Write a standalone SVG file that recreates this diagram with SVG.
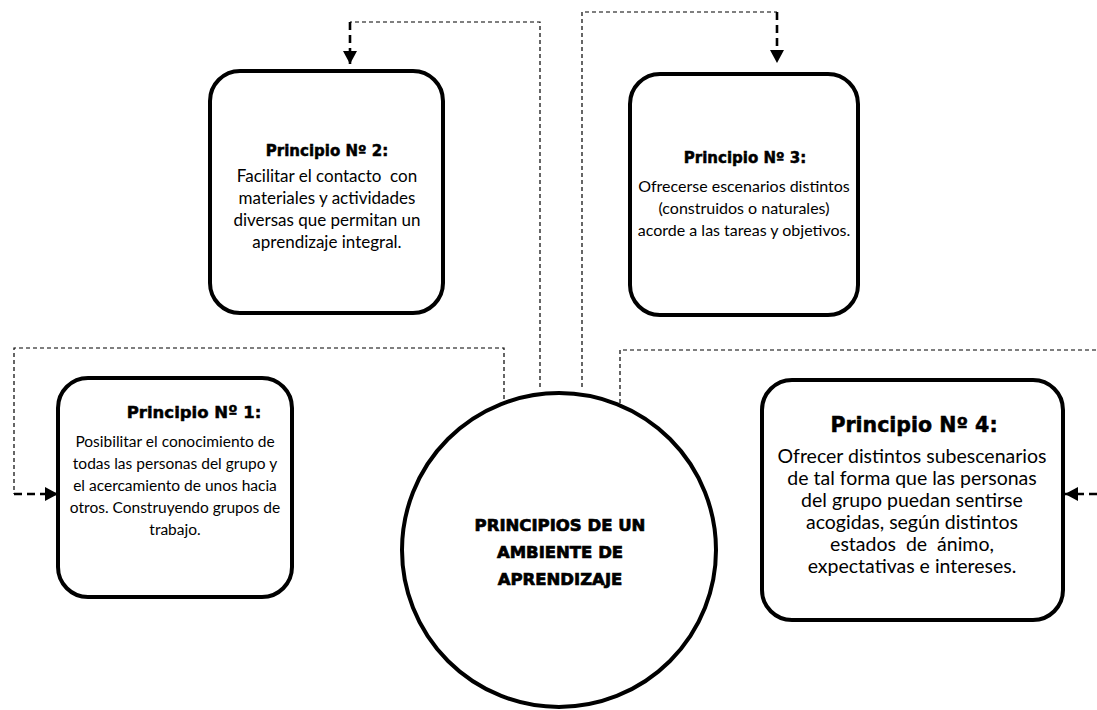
<svg xmlns="http://www.w3.org/2000/svg" width="1097" height="710" viewBox="0 0 1097 710">
<style>
.box{fill:#fff;stroke:#000;stroke-width:4}
.hd{font-family:"DejaVu Sans",sans-serif;font-weight:bold;font-size:15px;text-anchor:middle;fill:#000;stroke:#000;stroke-width:0.5}
.bd{font-family:Lato,"Open Sans",sans-serif;font-size:16px;text-anchor:middle;fill:#000}
.ct{font-family:"DejaVu Sans",sans-serif;font-weight:bold;font-size:16.5px;text-anchor:middle;fill:#000;stroke:#000;stroke-width:0.7}
.thin{fill:none;stroke:#000;stroke-width:1.2;stroke-dasharray:4 3}
.thick{fill:none;stroke:#000;stroke-width:2.6;stroke-dasharray:8 5}
</style>
<defs>
<marker id="ah" markerUnits="userSpaceOnUse" markerWidth="14" markerHeight="14" refX="13" refY="7" orient="auto">
<path d="M0,0 L13,7 L0,14 z" fill="#000"/>
</marker>
</defs>
<rect width="1097" height="710" fill="#fff"/>
<g id="connectors">
<path class="thin" d="M504,399 V348 H14 V494"/>
<path class="thick" d="M14,494 H58" marker-end="url(#ah)"/>
<path class="thin" d="M540,387 V22 H350"/>
<path class="thick" d="M350,22 V64" marker-end="url(#ah)"/>
<path class="thin" d="M582,387 V12 H777"/>
<path class="thick" d="M777,12 V63" marker-end="url(#ah)"/>
<path class="thin" d="M620,403 V350 H1097"/>
<path class="thick" d="M1097,494 H1065" marker-end="url(#ah)"/>
</g>
<g id="p2">
<rect class="box" x="210" y="71" width="233" height="242" rx="30"/>
<text class="hd" x="327" y="156">Principio Nº 2:</text>
<g class="bd" style="font-size:17px">
<text x="327" y="182" xml:space="preserve">Facilitar el contacto  con</text>
<text x="327" y="204">materiales y actividades</text>
<text x="327" y="226">diversas que permitan un</text>
<text x="327" y="248">aprendizaje integral.</text>
</g>
</g>
<g id="p3">
<rect class="box" x="630" y="74" width="228" height="241" rx="30"/>
<text class="hd" x="745" y="163">Principio Nº 3:</text>
<g class="bd">
<text x="744" y="192">Ofrecerse escenarios distintos</text>
<text x="744" y="214">(construidos o naturales)</text>
<text x="744" y="236">acorde a las tareas y objetivos.</text>
</g>
</g>
<g id="p1">
<rect class="box" x="58" y="378" width="234" height="219" rx="30"/>
<text class="hd" x="194" y="418" style="font-size:16.5px">Principio Nº 1:</text>
<g class="bd" style="font-size:15.5px">
<text x="175" y="447">Posibilitar el conocimiento de</text>
<text x="175" y="469">todas las personas del grupo y</text>
<text x="175" y="491">el acercamiento de unos hacia</text>
<text x="175" y="513">otros. Construyendo grupos de</text>
<text x="175" y="535">trabajo.</text>
</g>
</g>
<g id="p4">
<rect class="box" x="762" y="380" width="301" height="240" rx="30"/>
<text class="hd" x="914" y="432" style="font-size:20.5px">Principio Nº 4:</text>
<g class="bd" style="font-size:19.5px">
<text x="912" y="463">Ofrecer distintos subescenarios</text>
<text x="912" y="485">de tal forma que las personas</text>
<text x="912" y="507">del grupo puedan sentirse</text>
<text x="912" y="529">acogidas, según distintos</text>
<text x="912" y="551" xml:space="preserve">estados  de  ánimo,</text>
<text x="912" y="573">expectativas e intereses.</text>
</g>
</g>
<g id="center">
<circle cx="559" cy="550" r="157" fill="#fff" stroke="#000" stroke-width="4"/>
<text class="ct" x="560" y="531">PRINCIPIOS DE UN</text>
<text class="ct" x="560" y="558">AMBIENTE DE</text>
<text class="ct" x="560" y="585">APRENDIZAJE</text>
</g>
</svg>
